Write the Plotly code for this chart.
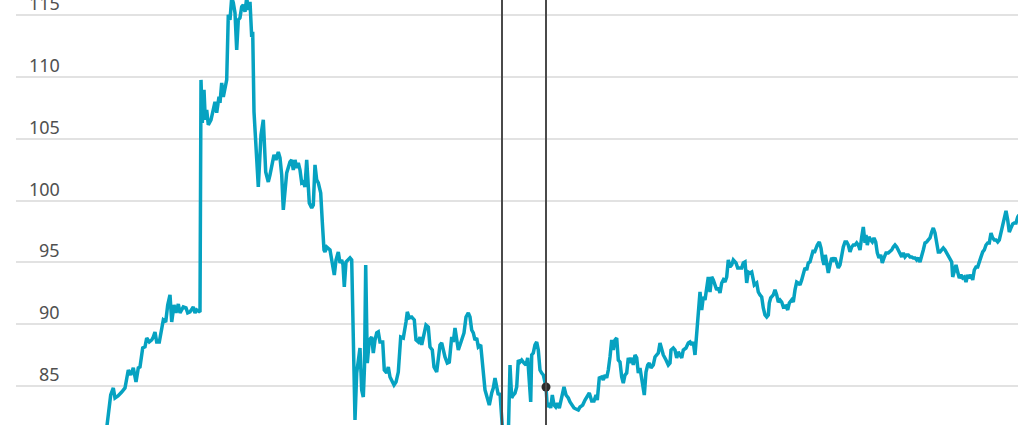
import plotly.graph_objects as go

# Time index (days from start of series) and index values
days = [0, 2, 5.7, 8.3, 10, 13, 16.7, 20, 23.3, 25.7, 28.3, 31, 33.3, 35, 37.7, 40, 41.7, 44.3, 46.7, 48.3,
        50, 51.7, 54.3, 56.7, 58.3, 60.7, 62.7, 65, 66.7, 69, 71, 73.3, 75, 78.3, 81, 82.7, 85, 88.3, 90, 91.7, 95,
        96, 97.3, 99, 100.3, 101.7, 103.3, 106, 107.7, 110, 111.7, 114, 115, 116.7, 118.3, 120, 121.7, 123.3, 125,
        126.7, 128.3, 130, 131.7, 133.3, 135, 136.7, 138.3, 140, 141.7, 143.3, 145, 146.7, 147.7, 149, 151, 153.3,
        156, 158.3, 160.7, 163.3, 165,
        166.7, 169, 171, 173.3, 175, 176.7, 178.3, 180, 181.7, 185, 186.7, 188.3, 190, 191.7, 193.3, 195, 196.7,
        198.3, 200, 201.7, 203.3, 204.3, 206.7, 208.3, 210, 211.7, 213.3, 215.7, 217.3, 219, 220, 221.7, 225, 226.7,
        228, 229.3, 231, 233.3, 235, 236.7, 238, 239.3, 241, 243.3, 245, 246.7,
        248.3, 250, 251.7, 253.3, 255, 256.7, 258.3, 259.5, 260.7, 262.3, 264.3, 266.7, 268.3, 270, 271.7, 273.3,
        275, 277.7, 279.3, 281.7, 283.3, 285, 286.7, 289, 291, 293.3, 295.7, 298.3, 301, 302.3, 304.3, 306.7, 309.3,
        311, 313.3, 315, 316.7, 319, 321, 323.3, 325, 327.3, 329, 331.7, 333.3, 335,
        336.7, 338.3, 340, 342.3, 344.3, 346.7, 348.3, 350, 351.7, 353.3, 355, 356.7, 359, 361, 363.3, 365, 366.7,
        368.3, 370, 371.7, 373.3, 375.7, 377.3, 380, 382.3, 384.3, 386.7, 388.3, 390, 391.7, 393.3, 395, 396.7, 398,
        401, 403.5, 405, 406.7, 408.3, 410, 411.7, 413.3, 415, 416.7, 419, 421, 422.7, 424.3, 425.7, 426.7, 428.3,
        430, 431.7, 433.3, 435, 436.7, 438.3, 441,
        442.3, 444, 445.7, 447.3, 449, 450.7, 452.3, 454.3, 456.7, 459, 461, 463.3, 465, 467.3, 469, 471, 473.3, 475,
        477.7, 480, 482.3, 484.3, 486.7, 489, 491, 492.3, 494.3, 496.7, 498.3, 500, 501.7, 503.3, 505,
        506.7, 508.3, 510, 511.7, 513.3, 515, 516.7, 518.3, 520, 521.7, 523.3, 525, 526.7, 528.3, 530, 531.7, 533.3,
        535, 536.7, 538.3, 539.3, 541, 542.7, 544.3, 546, 548.3, 550, 551.7, 553.3, 555, 556.7, 558.3, 561, 563.3,
        565, 566, 568.3, 570, 571.7, 573.3, 575, 576.7, 578.3, 581, 583.3, 585, 586.7, 588.3, 590, 591, 592.3, 594,
        595, 596.7, 598.3, 600, 601.7, 603.3, 605, 606.7, 608.3, 610, 611.7, 613.3, 615, 616.7, 618.3, 620, 621.7,
        623.3, 625, 626.7, 628.3, 631, 632.7, 635, 636.7, 638.3, 640, 641.7, 643.3, 645, 646.7, 648.3, 649.3, 651.7,
        653.3, 655, 656.7, 658.3, 660, 661.7, 663.3, 664.3, 665.7, 668.3, 670, 671.7, 673.3, 675,
        676.7, 678.3, 681, 682.7, 684.3, 686.7, 688.3, 690, 691.7, 693.3, 695, 696.7, 698.3, 700, 701.7, 703.3, 705,
        706.7, 708.3, 709.3, 711, 712.3, 714.3, 716, 717.7, 719, 720.3, 721.7, 723.3, 725, 726.7, 728.3, 730, 731.7,
        733.3, 735, 736.7, 738.3, 740, 741.7, 743.3, 745, 746.7, 748.3, 750, 751.7, 753.3, 755, 756.7, 758.3, 760,
        761, 762.3, 764, 765.7, 767.3, 769, 770.7, 772.3, 774, 775.7, 777.3, 779, 781, 783.3, 785, 786.7, 788.3, 790,
        791.7, 793.3, 795, 796.7, 798.3, 800, 801.7, 803.3, 805, 806.7, 808.3, 810, 811.7, 813.3, 815, 816.7, 818.3,
        820, 821.7, 823.3, 825, 826.7, 828.3, 830, 831.7, 833.3, 835, 836.7, 838.3, 840, 841.7, 843.3, 845, 846.7,
        847.7, 849.3, 851, 852.7, 854.3, 856, 857.7, 859.3, 861, 862.7, 864.3, 866, 867.7, 869.3, 871, 872.7, 874.3,
        876, 877.7, 879.3, 881, 882.7, 884.3, 886, 887.7, 889.3, 891, 892.7, 894.3, 896, 897.7, 899.3, 901, 902.7,
        904.3, 906, 907.7, 909.3, 911, 912.7, 914]

index_values = [80.9, 81.8, 84.27, 84.84, 84.03, 84.19, 84.51, 84.84, 86.29, 85.89, 86.46, 85.32, 86.46, 86.54,
        88.07, 88.16, 88.88, 88.56, 88.72, 88.96, 89.37, 88.56, 88.56, 89.69, 90.34, 90.18, 91.55, 92.36, 90.18,
        91.55, 90.91, 91.63, 90.91, 91.39, 91.31, 90.91, 90.99, 91.39, 90.91, 91.15, 90.99,
        109.75, 106.28, 108.95, 106.52, 107.33, 106.11, 106.52, 107.09, 107.98, 107.09, 108.38, 107.89, 109.51,
        108.38, 109.19, 109.75, 115.01, 114.61, 116.4, 116.0, 115.17, 112.18, 114.61, 114.77, 115.66, 115.82,
        115.26, 116.4, 115.42, 116.07, 113.23, 113.64, 107.17, 103.85, 101.1, 105.3, 106.52, 102.31, 101.5, 102.07,
        102.72, 103.69, 103.28, 103.93, 103.45, 102.07, 99.24, 100.61, 102.23, 103.12, 103.28, 102.47, 103.28,
        102.64, 103.04, 102.47, 101.42, 101.5, 101.1, 103.28, 101.42, 99.8, 99.4, 99.64, 102.88, 101.67, 101.42,
        100.61, 98.27, 96.0, 95.84, 96.24, 96.0, 95.19, 94.95, 93.98, 95.19, 95.84, 94.95, 95.19, 94.79, 93.01,
        95.03, 95.19, 95.36, 95.19,
        88.96, 82.25, 86.05, 87.35, 88.07, 84.68, 84.11, 86.54, 94.79, 86.86, 88.72, 88.96, 87.67, 88.72, 89.29,
        89.37, 88.56, 88.56, 86.29, 86.05, 86.54, 85.73, 85.49, 85.08, 85.32, 86.13, 88.96, 88.88, 90.18, 90.99,
        90.5, 90.58, 90.34, 88.72, 88.56, 88.96, 88.32, 89.13, 89.93, 89.77, 88.16, 87.91, 86.54, 86.13, 87.1,
        88.32,
        88.48, 87.91, 87.35, 86.86, 86.94, 88.96, 88.56, 89.69, 88.88, 87.91, 88.32, 88.72, 89.29, 90.58, 90.91,
        90.58, 89.53, 89.29, 88.72, 88.88, 88.16, 88.32, 86.86, 84.68, 84.03, 83.46, 84.43, 84.84, 85.65, 84.92,
        84.27, 84.43, 81.4, 80.9, 80.8, 81.6, 86.7, 84.03, 84.27, 84.43, 84.92, 87.1, 86.94, 87.1, 86.86, 86.7,
        87.27, 85.49, 83.71, 87.51, 87.67, 88.32, 88.56, 87.91, 86.29, 86.05, 85.89, 84.92,
        83.3, 83.62, 83.22, 84.27, 83.46, 83.3, 83.62, 83.22, 84.11, 84.92, 84.27, 84.03, 83.71, 83.46, 83.22,
        83.14, 83.06, 83.3, 83.46, 83.87, 84.11, 84.43, 83.79, 83.79, 84.27, 83.87, 85.65, 85.73, 85.49, 85.89,
        85.65, 86.29, 87.35,
        88.72, 87.91, 88.72, 88.88, 87.1, 86.94, 85.73, 85.24, 85.89, 86.05, 87.27, 86.86, 87.27, 86.7, 87.51,
        87.27, 86.05, 86.46, 85.49, 84.92, 84.27, 86.13, 86.7, 86.86, 86.46, 86.7, 87.35, 87.51, 87.67, 88.48,
        87.91, 87.51, 87.1, 86.7, 86.86, 87.91, 88.07, 87.91, 87.27, 87.75, 87.51, 87.27, 87.91, 88.07, 88.48,
        88.56, 88.32, 88.56, 87.51, 88.48, 89.93, 90.91, 92.6, 91.15, 92.2, 91.96, 93.01, 93.82, 92.6, 93.82,
        93.58, 93.17, 92.77, 92.93, 92.52, 93.33, 93.58, 93.41, 93.82, 95.19, 94.63, 94.79, 95.19, 94.95, 94.55,
        94.55, 94.55, 94.95, 95.03, 93.33, 94.22, 94.14, 94.22, 93.58, 93.17, 93.33, 92.6, 92.36, 92.2, 91.31,
        90.74, 90.58, 90.74, 91.71, 92.12, 92.36, 92.77, 92.36, 91.79, 91.96,
        91.79, 91.39, 91.47, 91.15, 91.71, 91.96, 91.79, 92.77, 93.41, 93.33, 93.17, 93.58, 94.22, 94.55, 94.38,
        94.95, 95.03, 95.6, 96.0, 95.76, 96.16, 96.4, 96.65, 96.16, 95.19, 94.79, 95.6, 95.03, 94.14, 94.79, 95.36,
        95.19, 95.36, 94.95, 94.55, 94.79, 95.6, 96.24, 96.65, 96.65, 96.4, 95.84, 96.24, 96.4, 96.4, 96.57, 96.4,
        96.0, 97.05, 97.86, 96.57, 97.21, 96.4, 97.05, 96.81, 96.65, 96.97, 96.65, 95.76, 95.36, 95.6, 94.95,
        95.36, 95.76, 95.76, 95.84, 96.0, 96.24, 96.4, 96.24, 96.0, 95.6, 95.44, 95.76, 95.44, 95.6, 95.6, 95.44,
        95.44, 95.36, 95.36, 95.19, 95.36, 95.03, 95.44, 96.0, 96.57, 96.65, 96.81, 96.97, 97.45, 97.78, 97.37,
        96.57, 95.84, 95.84, 96.0, 96.16, 96.0, 95.76, 95.44, 95.19, 95.03, 93.82, 94.38, 94.79, 94.22, 93.73,
        93.98, 93.73, 93.82, 93.41, 93.98, 93.73, 93.98, 93.58, 94.38, 94.63, 94.63, 94.95, 95.44, 95.84, 96.0,
        96.4, 96.57, 96.57, 97.37, 96.97, 96.81, 96.81, 96.65, 96.81, 97.45, 98.02, 98.67, 99.16, 98.43, 97.45,
        97.78, 98.1, 98.18, 98.18, 98.67, 98.83]

# Event markers (vertical rules) and highlighted point
event_days = [397, 441]
highlight_day = [441]
highlight_value = [84.92]

tick_values = [85, 90, 95, 100, 105, 110, 115]
tick_labels = ["85", "90", "95", "100", "105", "110", "115"]

X_RANGE = [-89, 913]
Y_RANGE = [81.846, 116.213]

fig = go.Figure()
fig.add_trace(go.Scatter(
    x=days, y=index_values, mode="lines",
    line=dict(color="#06a2c1", width=3.5),
    hoverinfo="skip", showlegend=False,
))
fig.add_trace(go.Scatter(
    x=highlight_day, y=highlight_value, mode="markers",
    marker=dict(color="#2b2b2b", size=9),
    hoverinfo="skip", showlegend=False,
))

for d in event_days:
    fig.add_shape(type="line", xref="x", yref="paper", x0=d, x1=d, y0=0, y1=1,
                  line=dict(color="#4a4a4a", width=2), layer="above")

for v, t in zip(tick_values, tick_labels):
    fig.add_annotation(x=46 / 1002, xref="paper", y=v, yref="y", text=t,
                       showarrow=False, xanchor="right", yanchor="middle", yshift=12,
                       font=dict(family="Noto Sans", size=18, color="#505050"))

fig.update_layout(
    width=1035, height=425,
    margin=dict(l=16, r=17, t=0, b=0, pad=0),
    paper_bgcolor="white", plot_bgcolor="white",
    xaxis=dict(range=X_RANGE, showgrid=False, zeroline=False, showticklabels=False,
               showline=False, ticks=""),
    yaxis=dict(range=Y_RANGE, tickvals=tick_values, showticklabels=False,
               showgrid=True, gridcolor="#e2e2e2", gridwidth=1.5, zeroline=False,
               showline=False, ticks=""),
)

fig.write_html("out.html", config={"displayModeBar": False},
               post_script="document.body.style.margin='0';document.body.style.overflow='hidden';")
